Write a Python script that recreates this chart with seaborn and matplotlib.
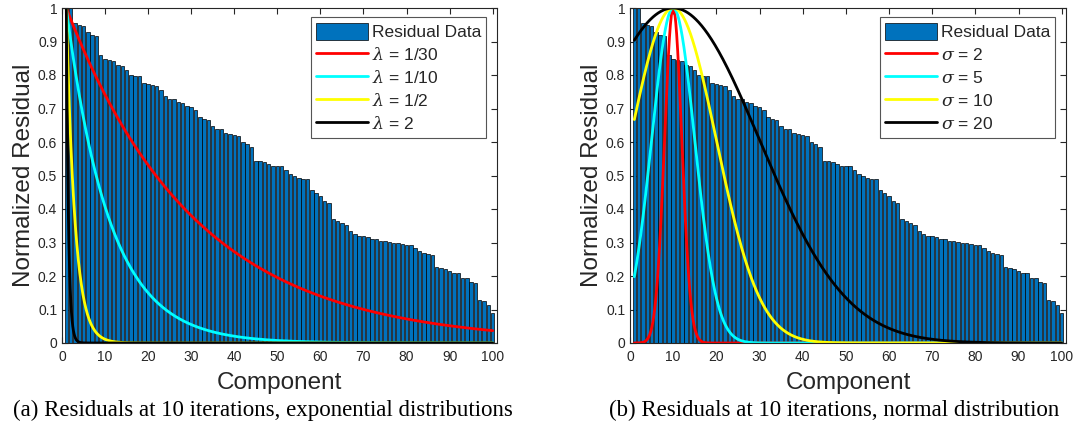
import numpy as np
import pandas as pd
import matplotlib
matplotlib.use("Agg")
import matplotlib.pyplot as plt
import seaborn as sns

# ---- data ----
components = list(range(1, 101))
residuals = [
    1.000, 1.000, 0.954, 0.950, 0.946, 0.927, 0.919, 0.916, 0.860, 0.849,
    0.845, 0.842, 0.829, 0.826, 0.814, 0.801, 0.797, 0.797, 0.775, 0.773,
    0.771, 0.767, 0.755, 0.737, 0.729, 0.727, 0.719, 0.717, 0.707, 0.703,
    0.696, 0.674, 0.670, 0.666, 0.648, 0.638, 0.638, 0.628, 0.624, 0.621,
    0.619, 0.600, 0.594, 0.584, 0.543, 0.543, 0.541, 0.534, 0.528, 0.527,
    0.527, 0.516, 0.504, 0.500, 0.492, 0.491, 0.489, 0.457, 0.447, 0.439,
    0.425, 0.419, 0.369, 0.365, 0.357, 0.352, 0.333, 0.324, 0.320, 0.318,
    0.316, 0.311, 0.310, 0.304, 0.303, 0.301, 0.298, 0.298, 0.295, 0.294,
    0.293, 0.283, 0.275, 0.268, 0.265, 0.262, 0.226, 0.223, 0.220, 0.216,
    0.210, 0.210, 0.195, 0.194, 0.183, 0.180, 0.128, 0.125, 0.113, 0.089,
]

exp_rates = [1 / 30, 1 / 10, 1 / 2, 2]
exp_labels = [r"$\lambda$ = 1/30", r"$\lambda$ = 1/10", r"$\lambda$ = 1/2", r"$\lambda$ = 2"]
norm_sigmas = [2, 5, 10, 20]
norm_center = 10
norm_labels = [r"$\sigma$ = 2", r"$\sigma$ = 5", r"$\sigma$ = 10", r"$\sigma$ = 20"]
curve_colors = ["#FF0000", "#00FFFF", "#FFFF00", "#000000"]

xticks = list(range(0, 101, 10))
yticks = [round(v * 0.1, 1) for v in range(0, 11)]
ytick_labels = ["0", "0.1", "0.2", "0.3", "0.4", "0.5", "0.6", "0.7", "0.8", "0.9", "1"]

captions = ["(a) Residuals at 10 iterations, exponential distributions",
            "(b) Residuals at 10 iterations, normal distribution"]

# ---- style ----
sns.set_style("ticks")
plt.rcParams["font.family"] = ["Liberation Sans", "DejaVu Sans"]
plt.rcParams["mathtext.fontset"] = "dejavuserif"

bar_color = "#0072BD"
axis_color = "#262626"

fig = plt.figure(figsize=(10.73, 4.37), dpi=100)
ax_a = fig.add_axes([62 / 1073, 94 / 437, 435 / 1073, 335 / 437])
ax_b = fig.add_axes([630 / 1073, 94 / 437, 436 / 1073, 335 / 437])

df = pd.DataFrame({"Component": components, "Residual": residuals})
xs = np.linspace(1, 100, 1981)


def draw_panel(ax, curves, labels):
    sns.barplot(data=df, x="Component", y="Residual", native_scale=True,
                width=0.8, color=bar_color, edgecolor="black", linewidth=0.5,
                saturation=1, label="Residual Data", ax=ax, errorbar=None)
    for ys, lab, col in zip(curves, labels, curve_colors):
        sns.lineplot(x=xs, y=ys, color=col, linewidth=2.0, label=lab, ax=ax,
                     estimator=None, sort=False)
    ax.set_xlim(0, 101)
    ax.set_ylim(0, 1)
    ax.set_xticks(xticks)
    ax.set_xticklabels([str(t) for t in xticks])
    ax.set_yticks(yticks)
    ax.set_yticklabels(ytick_labels)
    ax.tick_params(direction="in", top=True, right=True, length=4, width=0.8,
                   labelsize=10, colors=axis_color, labelcolor=axis_color)
    ax.tick_params(axis="x", pad=5)
    for sp in ax.spines.values():
        sp.set_visible(True)
        sp.set_color(axis_color)
        sp.set_linewidth(0.8)
    ax.set_xlabel("Component", fontsize=17.5, color=axis_color, labelpad=6)
    ax.set_ylabel("Normalized Residual", fontsize=17.5, color=axis_color, labelpad=2)
    handles, labs = ax.get_legend_handles_labels()
    order = [labs.index("Residual Data")] + [labs.index(l) for l in labels]
    leg = ax.legend([handles[i] for i in order], [labs[i] for i in order],
                    loc="upper right", bbox_to_anchor=(0.975, 0.972),
                    fontsize=12.5, frameon=True, fancybox=False,
                    handlelength=3.0, handleheight=1.2, handletextpad=0.2,
                    labelspacing=0.3, borderpad=0.3, borderaxespad=0.0)
    leg.get_frame().set_edgecolor("#555555")
    leg.get_frame().set_linewidth(0.8)
    leg.get_frame().set_facecolor("white")
    leg.get_frame().set_alpha(1)


exp_curves = [np.exp(-lam * (xs - 1)) for lam in exp_rates]
norm_curves = [np.exp(-((xs - norm_center) ** 2) / (2 * s ** 2)) for s in norm_sigmas]

draw_panel(ax_a, exp_curves, exp_labels)
draw_panel(ax_b, norm_curves, norm_labels)

fig.text(263 / 1073, 1 - 410 / 437, captions[0], ha="center", va="center",
         fontsize=16.5, family=["Liberation Serif", "DejaVu Serif"], color="black")
fig.text(834 / 1073, 1 - 410 / 437, captions[1], ha="center", va="center",
         fontsize=16.5, family=["Liberation Serif", "DejaVu Serif"], color="black")

fig.savefig("out.png", dpi=100)
